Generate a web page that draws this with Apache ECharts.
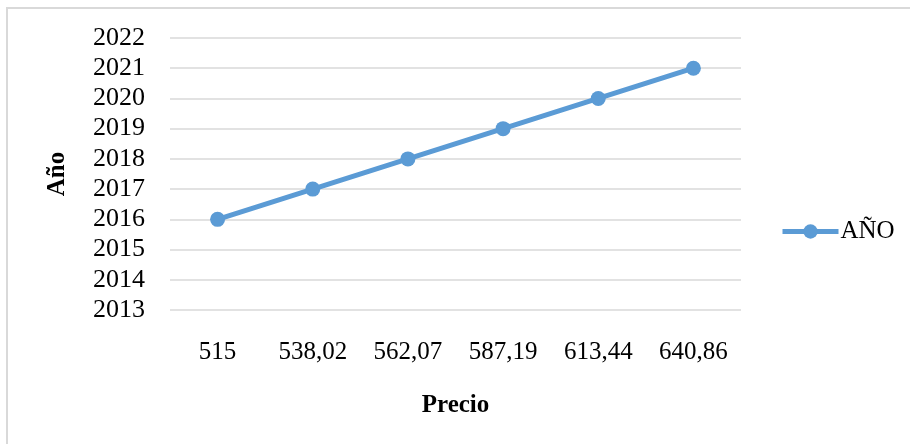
<!DOCTYPE html>
<html>
<head>
<meta charset="utf-8">
<script src="https://cdn.jsdelivr.net/npm/echarts@6/dist/echarts.min.js"></script>
<style>
  html, body { margin: 0; padding: 0; background: #fff; }
  #chart { width: 910px; height: 444px; }
</style>
</head>
<body>
<div id="chart"></div>
<script>
// Price per year
const precios = ['515', '538,02', '562,07', '587,19', '613,44', '640,86'];
const anios = [2016, 2017, 2018, 2019, 2020, 2021];
const serieNombre = 'AÑO';
const ejeX = 'Precio';
const ejeY = 'Año';

const serif = '"Liberation Serif", "Times New Roman", serif';
const azul = '#5B9BD5';

const chart = echarts.init(document.getElementById('chart'));
chart.setOption({
  animation: false,
  graphic: [{
    type: 'rect',
    shape: { x: 7, y: 8, width: 1000, height: 1000 },
    style: { fill: 'none', stroke: '#d9d9d9', lineWidth: 2 },
    silent: true
  }],
  grid: { left: 170, right: 169, top: 38, bottom: 134 },
  legend: {
    data: [serieNombre],
    left: 780,
    top: 219,
    padding: 0,
    itemWidth: 56,
    itemHeight: 18,
    itemGap: 2,
    lineStyle: { width: 5 },
    textStyle: { fontFamily: serif, fontSize: 25, color: '#000', padding: [0, 0, 0, -3] }
  },
  xAxis: {
    type: 'category',
    data: precios,
    boundaryGap: true,
    name: ejeX,
    nameLocation: 'middle',
    nameGap: 83,
    nameTextStyle: { fontFamily: serif, fontSize: 25, fontWeight: 'bold', color: '#000' },
    axisLine: { show: false },
    axisTick: { show: false },
    axisLabel: { fontFamily: serif, fontSize: 25, color: '#000', margin: 30 }
  },
  yAxis: {
    type: 'value',
    min: 2013,
    max: 2022,
    interval: 1,
    name: ejeY,
    nameLocation: 'middle',
    nameGap: 100,
    nameTextStyle: { fontFamily: serif, fontSize: 25, fontWeight: 'bold', color: '#000' },
    axisLine: { show: false },
    axisTick: { show: false },
    axisLabel: {
      fontFamily: serif, fontSize: 26, color: '#000', margin: 25,
      formatter: v => String(v)
    },
    splitLine: { lineStyle: { color: '#d9d9d9', width: 1.5 } }
  },
  series: [{
    name: serieNombre,
    type: 'line',
    data: anios,
    symbol: 'circle',
    symbolSize: 15,
    lineStyle: { color: azul, width: 5 },
    itemStyle: { color: azul }
  }]
});
</script>
</body>
</html>
